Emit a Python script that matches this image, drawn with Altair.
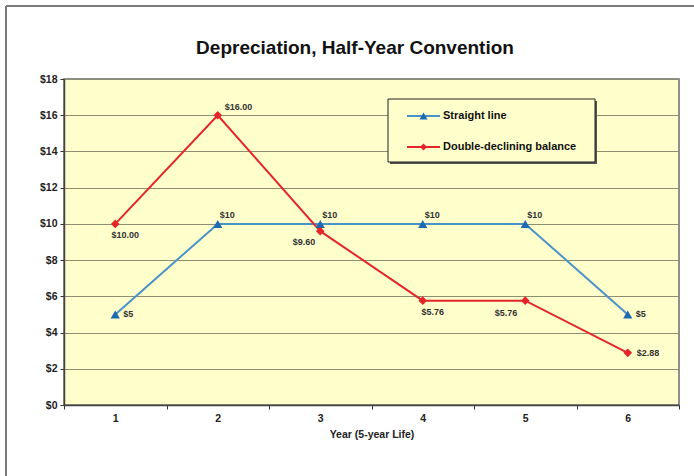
import altair as alt
import pandas as pd

years = [1, 2, 3, 4, 5, 6]
straight_line = [5, 10, 10, 10, 10, 5]
double_declining = [10.00, 16.00, 9.60, 5.76, 5.76, 2.88]
series_names = ["Straight line", "Double-declining balance"]
title_text = "Depreciation, Half-Year Convention"
x_title = "Year (5-year Life)"

rows = []
for y, v in zip(years, straight_line):
    rows.append({"series": series_names[0], "year": y, "value": v, "label": f"${v:.0f}"})
for y, v in zip(years, double_declining):
    rows.append({"series": series_names[1], "year": y, "value": v, "label": f"${v:.2f}"})
df = pd.DataFrame(rows)

BLUE_LINE = "#4A93C9"
BLUE_MARK = "#1C6BB2"
RED = "#E4262B"
FONT = "Liberation Sans"

base = alt.Chart(df)
x_enc = alt.X(
    "year:O",
    scale=alt.Scale(type="band", paddingInner=0, paddingOuter=0),
    bandPosition=0.5,
    axis=alt.Axis(
        title=x_title, labelAngle=0, tickBand="extent", grid=False,
        labelFont=FONT, labelFontSize=10.5, labelFontWeight="bold", labelColor="#222",
        titleFont=FONT, titleFontSize=10.5, titleFontWeight="bold", titleColor="#222",
        titlePadding=6, labelPadding=4, tickSize=4, tickColor="#333",
        domainColor="#444", domainWidth=1.5,
    ),
)
y_enc = alt.Y(
    "value:Q",
    scale=alt.Scale(domain=[0, 18], nice=False),
    axis=alt.Axis(
        title=None, values=list(range(0, 19, 2)), format="$,.0f",
        labelFont=FONT, labelFontSize=10.5, labelFontWeight="bold", labelColor="#222",
        labelPadding=3, tickSize=4, tickColor="#333",
        domainColor="#444", domainWidth=1.5,
        grid=True, gridColor="#8E8E72", gridWidth=1,
    ),
)

def series(name):
    return alt.FieldEqualPredicate(field="series", equal=name)

sl_line = base.transform_filter(series(series_names[0])).mark_line(
    color=BLUE_LINE, strokeWidth=2).encode(x=x_enc, y=y_enc)
sl_pts = base.transform_filter(series(series_names[0])).mark_point(
    shape="triangle-up", filled=True, color=BLUE_MARK, size=85, opacity=1).encode(x=x_enc, y=y_enc)
dd_line = base.transform_filter(series(series_names[1])).mark_line(
    color=RED, strokeWidth=2).encode(x=x_enc, y=y_enc)
dd_pts = base.transform_filter(series(series_names[1])).mark_point(
    shape="diamond", filled=True, color=RED, size=75, opacity=1).encode(x=x_enc, y=y_enc)

def labels(name, yrs, align, dx, dy):
    return base.transform_filter(series(name)).transform_filter(
        alt.FieldOneOfPredicate(field="year", oneOf=yrs)
    ).mark_text(
        align=align, baseline="middle", dx=dx, dy=dy, font=FONT,
        fontSize=9, fontWeight="bold", color="#333"
    ).encode(x=x_enc, y=y_enc, text="label:N")

lbls = [
    labels(series_names[0], [1, 6], "left", 8, 0),
    labels(series_names[0], [2, 3, 4, 5], "left", 2, -9),
    labels(series_names[1], [1, 4], "center", 10, 11),
    labels(series_names[1], [2], "left", 7, -8),
    labels(series_names[1], [3], "right", -5, 11),
    labels(series_names[1], [5], "right", -8, 12),
    labels(series_names[1], [6], "left", 9, 0),
]

one = alt.Chart(alt.Data(values=[{"t": title_text}]))

title = one.mark_text(
    font=FONT, fontSize=19, fontWeight="bold", color="#111", align="center", baseline="middle"
).encode(text="t:N", x=alt.value(291), y=alt.value(-31))

# outer frame (left and top edges)
frame_left = one.mark_rule(color="#7A7A7A", strokeWidth=2, clip=False).encode(
    x=alt.value(-58), y=alt.value(-73), y2=alt.value(420))
frame_top = one.mark_rule(color="#7A7A7A", strokeWidth=2, clip=False).encode(
    x=alt.value(-58), x2=alt.value(640), y=alt.value(-73))

# legend box
leg_shadow = one.mark_rect(color="#555", clip=False).encode(
    x=alt.value(326), x2=alt.value(533), y=alt.value(22), y2=alt.value(85))
leg_box = one.mark_rect(fill="#FFFFCC", stroke="#222", strokeWidth=1, clip=False).encode(
    x=alt.value(324), x2=alt.value(531), y=alt.value(20), y2=alt.value(83))

leg_df = pd.DataFrame({"name": series_names})
leg_layers = []
for i, (name, lc, mc, shp, sz) in enumerate([
    (series_names[0], BLUE_LINE, BLUE_MARK, "triangle-up", 65),
    (series_names[1], RED, RED, "diamond", 50),
]):
    yy = 37 if i == 0 else 68
    src = alt.Chart(leg_df).transform_filter(alt.FieldEqualPredicate(field="name", equal=name))
    leg_layers.append(src.mark_rule(color=lc, strokeWidth=2).encode(
        x=alt.value(343), x2=alt.value(376), y=alt.value(yy)))
    leg_layers.append(src.mark_point(shape=shp, filled=True, color=mc, size=sz, opacity=1).encode(
        x=alt.value(359.5), y=alt.value(yy)))
    leg_layers.append(src.mark_text(align="left", baseline="middle", font=FONT, fontSize=11,
                                    fontWeight="bold", color="#111").encode(
        x=alt.value(379), y=alt.value(yy), text="name:N"))

chart = alt.layer(
    frame_left, frame_top,
    sl_line, dd_line, sl_pts, dd_pts, *lbls,
    leg_shadow, leg_box, *leg_layers, title,
).properties(
    width=615, height=326,
    autosize=alt.AutoSizeParams(type="none"),
    padding={"left": 64, "top": 79, "right": 15, "bottom": 71},
    background="white",
).configure_view(
    fill="#FFFFCC", stroke="#6A6A6A", strokeWidth=1.5,
)

chart.save("out.html", embed_options={"renderer": "svg", "actions": False})
